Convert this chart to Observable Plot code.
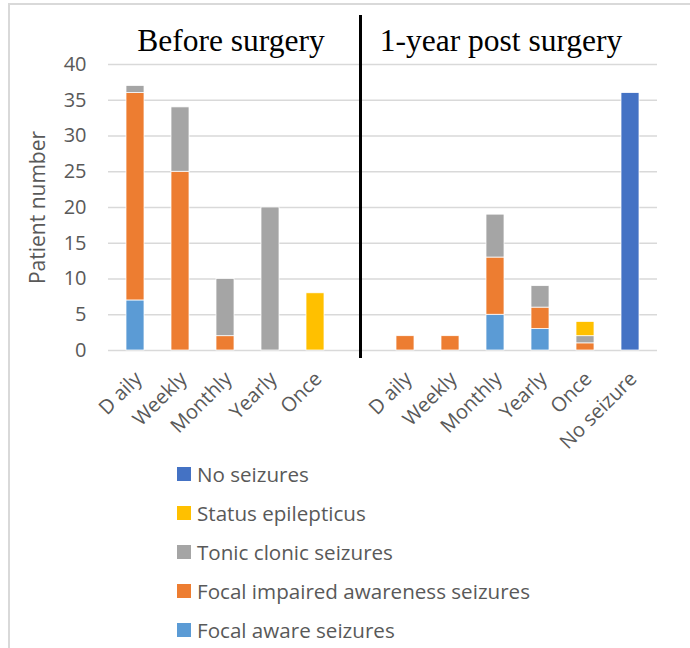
<!DOCTYPE html>
<html>
<head>
<meta charset="utf-8">
<script src="https://cdn.jsdelivr.net/npm/d3@7"></script>
<script src="https://cdn.jsdelivr.net/npm/@observablehq/plot@0.6"></script>
<style>
  html, body { margin: 0; padding: 0; background: #fff; overflow: hidden; }
  #wrap { position: relative; width: 690px; height: 648px; overflow: hidden; font-family: "Open Sans", sans-serif; }
  #frame { position: absolute; left: 8px; top: 3px; width: 720px; height: 700px; border: 2px solid #d9d9d9; box-sizing: border-box; }
  #chart { position: absolute; left: 0; top: 0; }
  #legend { position: absolute; left: 177px; top: 454px; }
  .item { display: flex; align-items: center; height: 39px; font-size: 20.6px; color: #595959; white-space: nowrap; }
  .swatch { width: 14px; height: 14px; margin-right: 6px; flex: none; }
</style>
</head>
<body>
<div id="wrap">
  <div id="frame"></div>
  <div id="chart"></div>
  <div id="legend"></div>
</div>
<script>
// Seizure frequency groups for the two periods
const periodTitles = ["Before surgery", "1-year post surgery"];
const beforeFrequencies = ["D aily", "Weekly", "Monthly", "Yearly", "Once"];
const afterFrequencies = ["D aily", "Weekly", "Monthly", "Yearly", "Once", "No seizure"];

// Seizure types, stacked bottom to top
const seizureTypes = [
  "Focal aware seizures",
  "Focal impaired awareness seizures",
  "Tonic clonic seizures",
  "Status epilepticus",
  "No seizures"
];
const typeColors = ["#5B9BD5", "#ED7D31", "#A5A5A5", "#FFC000", "#4472C4"];

// Patient counts per frequency group
const focalAwareBefore     = [7, 0, 0, 0, 0];
const focalImpairedBefore  = [29, 25, 2, 0, 0];
const tonicClonicBefore    = [1, 9, 8, 20, 0];
const statusBefore         = [0, 0, 0, 0, 8];
const noSeizuresBefore     = [0, 0, 0, 0, 0];

const focalAwareAfter      = [0, 0, 5, 3, 0, 0];
const focalImpairedAfter   = [2, 2, 8, 3, 1, 0];
const tonicClonicAfter     = [0, 0, 6, 3, 1, 0];
const statusAfter          = [0, 0, 0, 0, 2, 0];
const noSeizuresAfter      = [0, 0, 0, 0, 0, 36];

const yTicks = [0, 5, 10, 15, 20, 25, 30, 35, 40];

// Band keys: before groups, an empty separator slot, after groups
const beforeKeys = beforeFrequencies.map((_, i) => "B" + i);
const afterKeys = afterFrequencies.map((_, i) => "A" + i);
const domain = [...beforeKeys, "gap", ...afterKeys];
const labelOf = new Map([
  ...beforeKeys.map((k, i) => [k, beforeFrequencies[i]]),
  ["gap", ""],
  ...afterKeys.map((k, i) => [k, afterFrequencies[i]])
]);

const beforeSeries = [focalAwareBefore, focalImpairedBefore, tonicClonicBefore, statusBefore, noSeizuresBefore];
const afterSeries = [focalAwareAfter, focalImpairedAfter, tonicClonicAfter, statusAfter, noSeizuresAfter];

const rows = [];
seizureTypes.forEach((type, t) => {
  beforeSeries[t].forEach((v, i) => { if (v > 0) rows.push({key: beforeKeys[i], type, value: v}); });
  afterSeries[t].forEach((v, i) => { if (v > 0) rows.push({key: afterKeys[i], type, value: v}); });
});

const titleKeys = [beforeKeys[2], afterKeys[2]];

const chart = Plot.plot({
  width: 690,
  height: 450,
  marginTop: 64,
  marginLeft: 108,
  marginRight: 33,
  marginBottom: 100,
  style: {fontFamily: "'Open Sans', sans-serif", fontSize: "20px", color: "#595959", background: "transparent", overflow: "visible"},
  x: {domain, paddingInner: 0.6, paddingOuter: 0.3, label: null},
  y: {domain: [0, 40], label: null},
  color: {domain: seizureTypes, range: typeColors},
  marks: [
    Plot.gridY(yTicks, {stroke: "#d9d9d9", strokeOpacity: 1, strokeWidth: 1.5}),
    Plot.axisY(yTicks, {tickSize: 0, tickPadding: 22, fontSize: 20, label: null}),
    Plot.axisX(domain, {
      tickSize: 0, tickRotate: -45, tickPadding: 25, dx: 3, fontSize: 20, label: null,
      tickFormat: k => labelOf.get(k)
    }),
    Plot.barY(rows, {x: "key", y: "value", fill: "type", stroke: "white", strokeWidth: 0.75, order: seizureTypes}),
    Plot.ruleX(["gap"], {stroke: "black", strokeWidth: 3, insetTop: -49, insetBottom: -8}),
    Plot.text(periodTitles, {
      x: (d, i) => titleKeys[i], frameAnchor: "top", dx: 5.5, dy: -14, lineAnchor: "bottom",
      fontFamily: "'Liberation Serif', serif", fontSize: 31.5, fill: "black"
    }),
    Plot.text(["Patient number"], {
      frameAnchor: "left", rotate: -90, dx: -70, textAnchor: "middle", fontSize: 21, fill: "#595959"
    })
  ]
});
document.getElementById("chart").appendChild(chart);

// Legend, listed top to bottom in reverse stacking order
const legend = d3.select("#legend");
seizureTypes.slice().reverse().forEach(type => {
  const item = legend.append("div").attr("class", "item");
  item.append("div").attr("class", "swatch").style("background", typeColors[seizureTypes.indexOf(type)]);
  item.append("span").text(type);
});
</script>
</body>
</html>
